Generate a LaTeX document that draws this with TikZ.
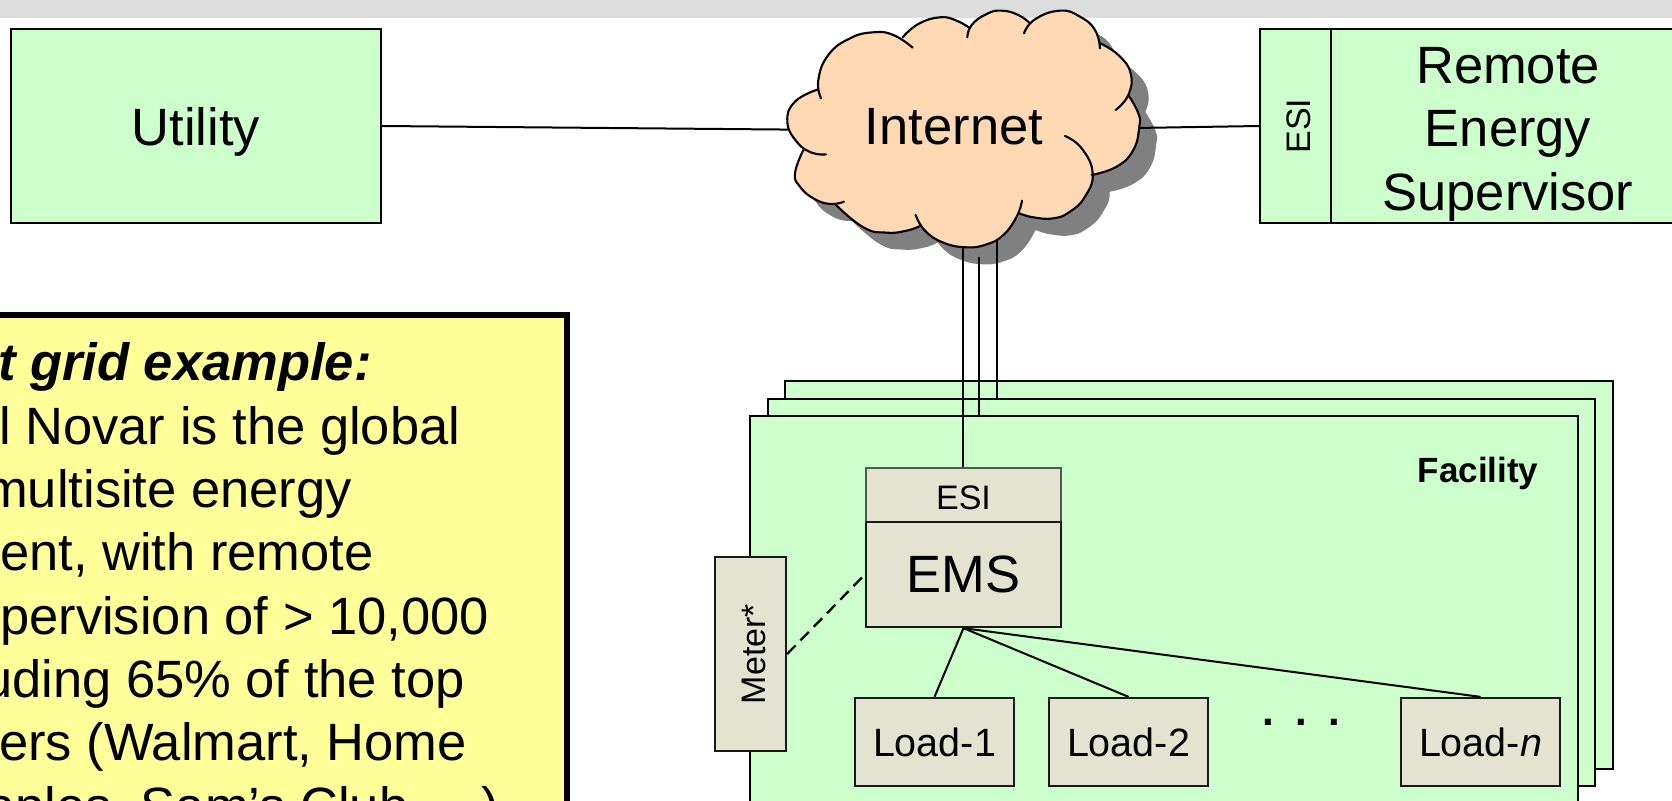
\documentclass[tikz,border=0pt]{standalone}
\usepackage{fontspec}
\setmainfont{Liberation Sans}

\definecolor{facgreen}{HTML}{CCFFCC}
\definecolor{emstan}{HTML}{E3E3CF}
\definecolor{notefill}{HTML}{FFFF99}
\definecolor{cloudfill}{HTML}{FFD9B3}
\definecolor{cloudshade}{HTML}{808080}
\definecolor{topbar}{HTML}{DCDCDC}
\definecolor{esiline}{HTML}{555555}

\tikzset{
    largetext/.style={font=\fontsize{52.5}{63.4}\selectfont},
    smalltext/.style={font=\fontsize{34}{40}\selectfont,text height=30pt},
    loadtext/.style={font=\fontsize{39.5}{46}\selectfont},
    greenbox/.style={draw=black,line width=2.3pt,fill=facgreen,inner sep=0pt},
    tanbox/.style={draw=black!90,line width=2.3pt,fill=emstan,inner sep=0pt},
    noteline/.style={anchor=base west,inner sep=0pt,font=\fontsize{52.5}{63.4}\selectfont},
    link/.style={draw=black,line width=2pt},
    cloudgrid/.style={x=0.3333pt,y=-0.3333pt},
}

% Lobes of the cloud, in a grid of one third of a pixel
\def\cloudlobes{
    plot[smooth,tension=0.8] coordinates {(183,295) (175,240) (205,165) (270,115) (340,97) (400,105) (458,143)}
    plot[smooth,tension=0.8] coordinates {(428,112) (475,72) (540,52) (590,62) (630,85)}
    plot[smooth,tension=0.8] coordinates {(622,112) (635,75) (680,42) (725,32) (775,45) (810,70)}
    plot[smooth,tension=0.8] coordinates {(792,100) (825,58) (900,32) (960,50) (1005,90) (1020,145)}
    plot[smooth,tension=0.8] coordinates {(1020,130) (1075,165) (1112,220) (1105,285) (1067,330)}
    plot[smooth,tension=0.8] coordinates {(1105,285) (1135,340) (1138,380) (1120,450) (1070,500) (995,525)}
    plot[smooth,tension=0.8] coordinates {(915,408) (965,445) (998,520) (975,590) (930,635) (880,655) (820,652) (778,640)}
    plot[smooth,tension=0.8] coordinates {(786,602) (770,650) (730,705) (680,733) (620,742) (550,728) (495,692) (467,645)}
    plot[smooth,tension=0.8] coordinates {(480,678) (440,692) (380,698) (310,682) (225,612)}
    plot[smooth,tension=0.8] coordinates {(252,605) (210,612) (160,595) (120,560) (105,520) (130,450)}
    plot[smooth,tension=0.8] coordinates {(198,463) (155,458) (110,425) (82,365) (105,305) (175,268)}
}
\def\cloudcore{
    (175,268) -- (428,112) -- (630,85) -- (810,70) -- (1020,130) -- (1105,285) -- (995,525)
    -- (778,640) -- (480,678) -- (225,612) -- (130,450) -- cycle
}

\begin{document}
\begin{tikzpicture}[x=1pt,y=-1pt]

        % Frame of the picture
        \path[use as bounding box,clip] (0,0) rectangle (1672,800);
        \fill[topbar] (0,0) rectangle (1672,18);

        % Top row
        \node[greenbox,largetext,text depth=0pt,minimum width=370,minimum height=194] (utility) at (196,126) {Utility};
        \node[greenbox,minimum width=358,minimum height=194] (supervisor) at (1510,126) {};
        \node[largetext,align=center,inner sep=0pt] (supervisortext) at (1508,134) {Remote\\Energy\\Supervisor};
        \node[greenbox,smalltext,rotate=90,minimum width=194,minimum height=71] (remoteesi) at (1295.5,126) {ESI};

        % Note
        \node[draw=black,line width=6pt,fill=notefill,minimum width=617,minimum height=584] (notebox) at (258,607) {};
        \node[noteline,font=\fontsize{52.5}{63.4}\selectfont\bfseries\itshape] (notea) at (-2,380) {t grid example:};
        \node[noteline] (noteb) at (-1,444) {l Novar is the global};
        \node[noteline] (notec) at (-16,507) {multisite energy};
        \node[noteline] (noted) at (0,570) {ent, with remote};
        \node[noteline] (notee) at (0,634) {pervision of > 10,000};
        \node[noteline] (notef) at (-17,697) {uding 65\% of the top};
        \node[noteline] (noteg) at (-1,760) {ers (Walmart, Home};
        \node[noteline] (noteh) at (-14,824) {aples, Sam’s Club, ...)};

        % Facility sheets
        \node[greenbox,minimum width=828,minimum height=388] (facback) at (1199,575) {};
        \node[greenbox,minimum width=827,minimum height=387] (facmid) at (1181.5,592.5) {};
        \node[greenbox,minimum width=828,minimum height=424] (facfront) at (1164,628) {};
        \node[inner sep=0pt,font=\fontsize{35}{40}\selectfont\bfseries,anchor=base] (facility) at (1478,482) {Facility};

        % Boxes inside the facility
        \node[tanbox,draw=esiline,smalltext,minimum width=195,minimum height=54] (emsesi) at (963.5,495) {ESI};
        \node[tanbox,largetext,minimum width=195,minimum height=105] (ems) at (963.5,574.5) {EMS};
        \node[tanbox,rotate=90,smalltext,minimum width=194,minimum height=71] (meter) at (750.5,654) {Meter*};
        \node[tanbox,loadtext,minimum width=159,minimum height=88] (loada) at (934.5,742) {Load-1};
        \node[tanbox,loadtext,minimum width=159,minimum height=88] (loadb) at (1128.5,742) {Load-2};
        \node[tanbox,loadtext,minimum width=159,minimum height=88] (loadn) at (1480.5,742) {Load-\textit{n}};
        \node[inner sep=0pt,font=\fontsize{42}{50}\selectfont\bfseries,anchor=base] (dots) at (1301,725) {\spaceskip=17.3pt . . .};

        % Links inside the facility
        \draw[link] (ems.south) -- (loada.north);
        \draw[link] (ems.south) -- (loadb.north);
        \draw[link] (ems.south) -- (loadn.north);
        \draw[link,line width=2.3pt,dash pattern=on 12pt off 7pt] (meter.south) -- (ems.west);

        % Shadow of the cloud
        \begin{scope}[shift={(777,17)},cloudgrid]
            \fill[cloudshade] \cloudlobes \cloudcore;
        \end{scope}

        % Links to the cloud
        \coordinate (cloudmid) at (950,131);
        \coordinate (linea) at (963,230);
        \coordinate (lineb) at (979,257);
        \coordinate (linec) at (997,230);
        \draw[link] (utility.east) -- (cloudmid);
        \draw[link] (remoteesi.north) -- (cloudmid);
        \draw[link] (linea) -- (linea |- emsesi.north);
        \draw[link] (lineb) -- (lineb |- facfront.north);
        \draw[link] (linec) -- (linec |- facmid.north);

        % Cloud
        \begin{scope}[shift={(760,0)},cloudgrid]
            \fill[cloudfill] \cloudlobes \cloudcore;
            \draw[line width=2.1pt,line cap=round,line join=round] \cloudlobes;
        \end{scope}
        \node[largetext,inner sep=0pt,anchor=base] (internet) at (954,144) {Internet};

        \end{tikzpicture}
\end{document}
